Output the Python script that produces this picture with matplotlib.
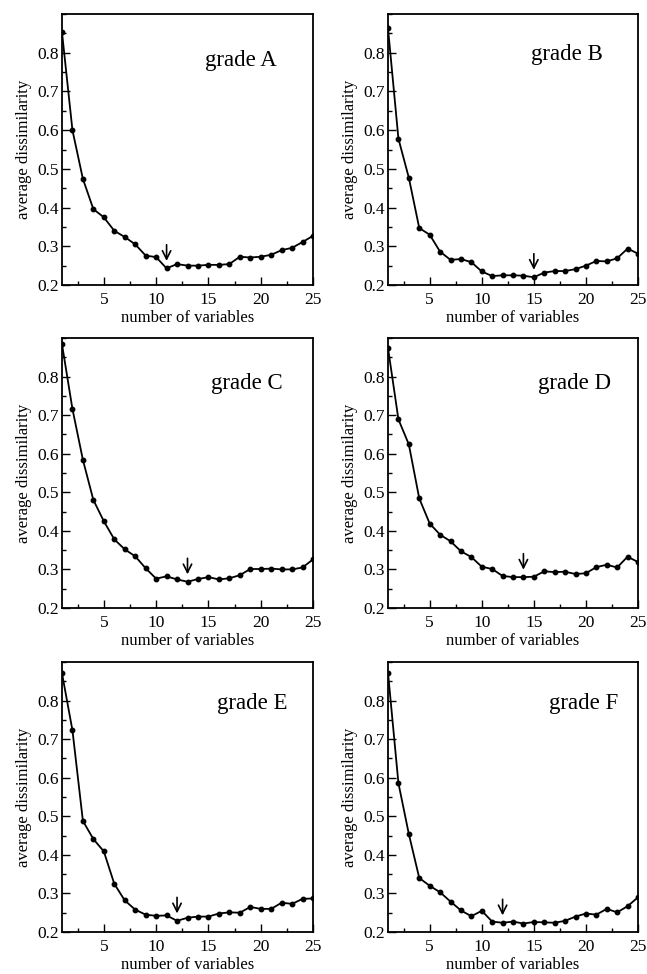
import numpy as np
import matplotlib
matplotlib.use("Agg")
import matplotlib.pyplot as plt
from matplotlib.ticker import MultipleLocator

plt.rcParams['font.family'] = ['Liberation Serif', 'DejaVu Serif']
plt.rcParams['mathtext.fontset'] = 'stix'

# numero de variables (1..25)
n_vars = list(range(1, 26))

# disimilaridad promedio por grado
grade_A = [0.853, 0.600, 0.474, 0.396, 0.375, 0.340, 0.324, 0.305, 0.276, 0.272,
           0.243, 0.254, 0.250, 0.250, 0.252, 0.252, 0.254, 0.273, 0.271, 0.273,
           0.278, 0.290, 0.296, 0.311, 0.327]
grade_B = [0.863, 0.578, 0.477, 0.347, 0.330, 0.286, 0.265, 0.267, 0.259, 0.235,
           0.223, 0.225, 0.225, 0.224, 0.220, 0.232, 0.236, 0.236, 0.241, 0.250,
           0.262, 0.261, 0.269, 0.294, 0.281]
grade_C = [0.884, 0.716, 0.584, 0.480, 0.425, 0.378, 0.352, 0.334, 0.303, 0.276,
           0.282, 0.274, 0.268, 0.275, 0.280, 0.274, 0.277, 0.285, 0.301, 0.301,
           0.302, 0.300, 0.300, 0.305, 0.326]
grade_D = [0.874, 0.689, 0.624, 0.484, 0.419, 0.390, 0.373, 0.347, 0.332, 0.307,
           0.301, 0.283, 0.280, 0.280, 0.281, 0.295, 0.293, 0.294, 0.288, 0.290,
           0.306, 0.312, 0.305, 0.333, 0.319]
grade_E = [0.871, 0.723, 0.488, 0.441, 0.409, 0.325, 0.282, 0.258, 0.245, 0.242,
           0.243, 0.229, 0.237, 0.240, 0.240, 0.248, 0.251, 0.250, 0.265, 0.260,
           0.260, 0.276, 0.273, 0.286, 0.287]
grade_F = [0.872, 0.586, 0.454, 0.340, 0.320, 0.303, 0.279, 0.256, 0.241, 0.255,
           0.227, 0.224, 0.227, 0.222, 0.226, 0.225, 0.224, 0.229, 0.240, 0.248,
           0.245, 0.260, 0.251, 0.267, 0.290]

series = [grade_A, grade_B, grade_C, grade_D, grade_E, grade_F]
labels = ["grade A", "grade B", "grade C", "grade D", "grade E", "grade F"]
# numero de variables optimo (flecha)
best_n = [11, 15, 13, 14, 12, 12]
y_ticks = [0.2, 0.3, 0.4, 0.5, 0.6, 0.7, 0.8]
y_ticklabels = ["0.2", "0.3", "0.4", "0.5", "0.6", "0.7", "0.8"]

# posiciones de los ejes en fraccion de figura [izq, abajo, ancho, alto]
col_left = [0.0958, 0.5997]
col_w = [0.388, 0.3864]
row_bottom = [0.7074, 0.3758, 0.0431]
row_h = [0.2782, 0.2772, 0.2772]
# posicion del texto de cada panel (coordenadas de ejes)
label_pos = [(0.57, 0.83), (0.572, 0.85), (0.592, 0.833),
             (0.60, 0.833), (0.616, 0.848), (0.644, 0.848)]

fig = plt.figure(figsize=(6.47, 9.74), dpi=100)

for i, vals in enumerate(series):
    r, c = divmod(i, 2)
    ax = fig.add_axes([col_left[c], row_bottom[r], col_w[c], row_h[r]])
    ax.plot(n_vars, vals, '-o', color='black', lw=1.3, ms=3.2)

    ax.set_xlim(1, 25)
    ax.set_ylim(0.2, 0.9)
    ax.xaxis.set_major_locator(MultipleLocator(5))
    ax.xaxis.set_minor_locator(MultipleLocator(2.5))
    ax.set_yticks(y_ticks)
    ax.set_yticklabels(y_ticklabels)
    ax.yaxis.set_minor_locator(MultipleLocator(0.05))
    ax.tick_params(which='both', direction='in', top=False, right=False,
                   labelsize=12.5, width=1.0)
    ax.tick_params(which='major', length=6)
    ax.tick_params(which='minor', length=3)
    ax.tick_params(axis='y', pad=2)
    ax.tick_params(axis='x', pad=5)
    for sp in ax.spines.values():
        sp.set_linewidth(1.3)

    ax.set_xlabel("number of variables", fontsize=12, labelpad=1.5)
    ax.set_ylabel("average dissimilarity", fontsize=12, labelpad=4)

    ax.text(label_pos[i][0], label_pos[i][1], labels[i], transform=ax.transAxes,
            fontsize=16.5, ha='left', va='center')

    # flecha sobre el minimo
    k = best_n[i]
    yv = vals[k - 1]
    ax.annotate('', xy=(k, yv + 0.012), xytext=(k, yv + 0.068),
                arrowprops=dict(arrowstyle='->,head_length=0.6,head_width=0.3',
                                lw=1.2, color='black'))

fig.savefig("out.png", dpi=100)
